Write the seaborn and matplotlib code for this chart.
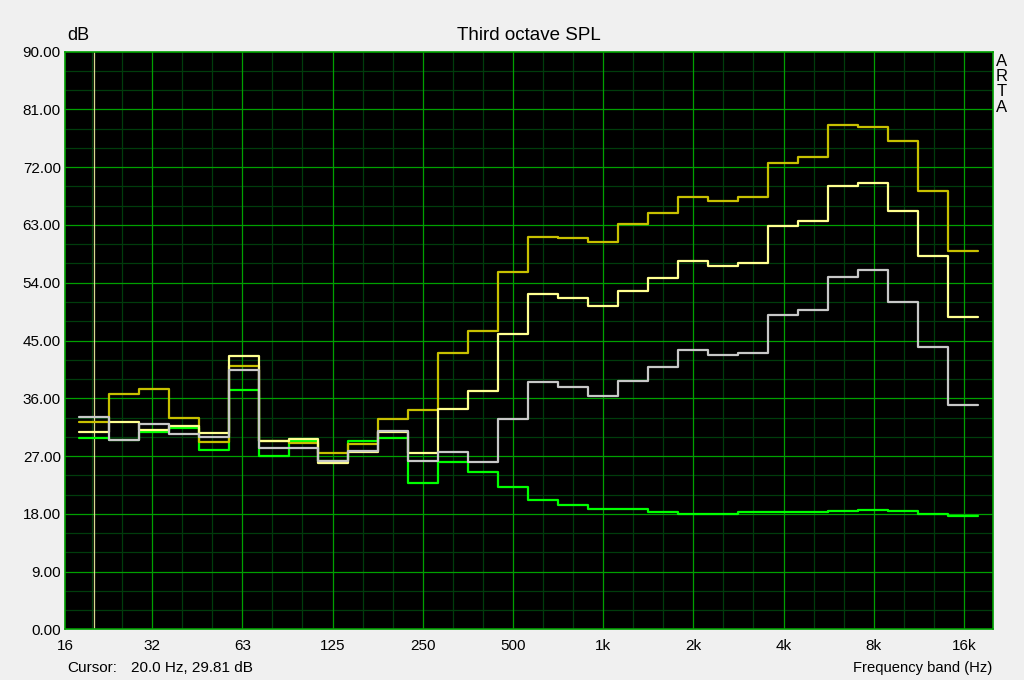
import numpy as np
import pandas as pd
import matplotlib
matplotlib.use("Agg")
import matplotlib.pyplot as plt
import seaborn as sns
from matplotlib.ticker import FixedLocator, NullFormatter

# ---- data ----
bands = ["20", "25", "31.5", "40", "50", "63", "80", "100", "125", "160", "200", "250",
         "315", "400", "500", "630", "800", "1k", "1.25k", "1.6k", "2k", "2.5k", "3.15k",
         "4k", "5k", "6.3k", "8k", "10k", "12.5k", "16k"]
band_index = list(range(-17, 13))  # third-octave index relative to 1 kHz

olive = [32.3, 36.7, 37.4, 33.0, 29.2, 41.1, 29.4, 29.0, 27.5, 28.8, 32.7, 34.1, 43.05, 46.5,
         55.7, 61.1, 60.9, 60.3, 63.2, 64.9, 67.4, 66.8, 67.3, 72.7, 73.6, 78.6, 78.3, 76.1, 68.3, 59.0]
yellow = [30.7, 32.3, 31.05, 31.7, 30.6, 42.6, 29.4, 29.65, 25.9, 27.6, 30.7, 27.5, 34.3, 37.2,
          46.0, 52.2, 51.7, 50.3, 52.7, 54.7, 57.4, 56.6, 57.1, 62.9, 63.6, 69.0, 69.6, 65.2, 58.1, 48.7]
gray = [33.06, 29.5, 32.0, 30.5, 29.9, 40.4, 28.3, 28.3, 26.3, 27.8, 30.9, 26.3, 27.7, 26.1,
        32.7, 38.5, 37.8, 36.4, 38.7, 40.9, 43.5, 42.8, 43.1, 49.0, 49.75, 54.9, 56.0, 51.0, 44.0, 34.9]
green = [29.81, 29.5, 30.8, 31.3, 28.0, 37.3, 27.0, 29.3, 26.3, 29.3, 29.85, 22.8, 26.1, 24.5,
         22.1, 20.2, 19.3, 18.8, 18.8, 18.2, 18.0, 17.9, 18.2, 18.2, 18.3, 18.4, 18.6, 18.5, 18.0, 17.7]

y_ticks = [0, 9, 18, 27, 36, 45, 54, 63, 72, 81, 90]
x_tick_labels = ["16", "32", "63", "125", "250", "500", "1k", "2k", "4k", "8k", "16k"]
x_tick_pos = [16] + [15.625 * 2 ** n for n in range(1, 11)]

series = [("green", green, "#00FF00"), ("olive", olive, "#C8C000"),
          ("yellow", yellow, "#FFFF90"), ("gray", gray, "#C8C8C8")]

# ---- build step data (band edges) ----
centers = np.array([1000 * 10 ** (k / 10) for k in band_index])
lo = centers * 10 ** (-0.05)
hi = centers * 10 ** (0.05)
rows = []
for name, vals, col in series:
    order = 0
    for l, h, v in zip(lo, hi, vals):
        rows.append((name, order, l, v)); order += 1
        rows.append((name, order, h, v)); order += 1
df = pd.DataFrame(rows, columns=["series", "order", "freq", "spl"])

# ---- figure ----
sns.set_style("dark")
plt.rcParams["font.family"] = ["Liberation Sans", "DejaVu Sans"]
plt.rcParams["text.color"] = "black"
fig = plt.figure(figsize=(10.24, 6.8), dpi=100, facecolor="#F0F0F0")
W, H = 1024, 680
ax = fig.add_axes([65 / W, (H - 629.3) / H, (993 - 65) / W, (629.3 - 51.7) / H])
ax.set_facecolor("black")

ax.set_xscale("log")
ax.set_xlim(16, 20000)
ax.set_ylim(0, 90)

# grid
minor_x = []
for n in range(0, 11):
    b = 15.625 * 2 ** n
    for k in (1, 2):
        f = b * 2 ** (k / 3)
        if 16 < f < 20000:
            minor_x.append(f)
for f in minor_x:
    ax.axvline(f, color="#003C0C", lw=0.9, zorder=1)
for y in np.arange(3, 90, 3):
    if y % 9:
        ax.axhline(y, color="#003C0C", lw=0.9, zorder=1)
for f in x_tick_pos[1:]:
    ax.axvline(f, color="#00A000", lw=0.9, zorder=1.5)
for y in y_ticks[1:-1]:
    ax.axhline(y, color="#00A000", lw=0.9, zorder=1.5)

# cursor
ax.axvline(20, color="#D8D890", lw=0.9, zorder=2)

for i, (name, vals, col) in enumerate(series):
    sub = df[df.series == name]
    sns.lineplot(data=sub, x="freq", y="spl", sort=False, estimator=None,
                 color=col, lw=1.6, ax=ax, zorder=3 + i)

ax.xaxis.set_major_locator(FixedLocator(x_tick_pos))
ax.set_xticklabels(x_tick_labels)
ax.xaxis.set_minor_formatter(NullFormatter())
ax.xaxis.set_minor_locator(FixedLocator([]))
ax.set_yticks(y_ticks)
ax.set_yticklabels([f"{v:.2f}" for v in y_ticks])
ax.tick_params(axis="both", length=0, labelsize=11, colors="black", labelcolor="black")
ax.tick_params(axis="x", pad=7)
ax.tick_params(axis="y", pad=3)
ax.set_xlabel("")
ax.set_ylabel("")
ax.grid(False)
for s in ax.spines.values():
    s.set_color("#00A000")
    s.set_linewidth(1.2)

fig.text(67 / W, 1 - 36 / H, "dB", fontsize=13, ha="left", va="center", color="black")
fig.text(529 / W, 1 - 36 / H, "Third octave SPL", fontsize=13.5, ha="center", va="center", color="black")
fig.text(67 / W, 1 - 668 / H, "Cursor:", fontsize=11, ha="left", va="center", color="black")
fig.text(131 / W, 1 - 668 / H, "20.0 Hz, 29.81 dB", fontsize=11, ha="left", va="center", color="black")
fig.text(992 / W, 1 - 668 / H, "Frequency band (Hz)", fontsize=10.6, ha="right", va="center", color="black")
for i, ch in enumerate("ARTA"):
    fig.text(1002 / W, 1 - (61 + i * 15.5) / H, ch, fontsize=12, ha="center", va="center", color="black")

fig.savefig("out.png", dpi=100, facecolor=fig.get_facecolor())
